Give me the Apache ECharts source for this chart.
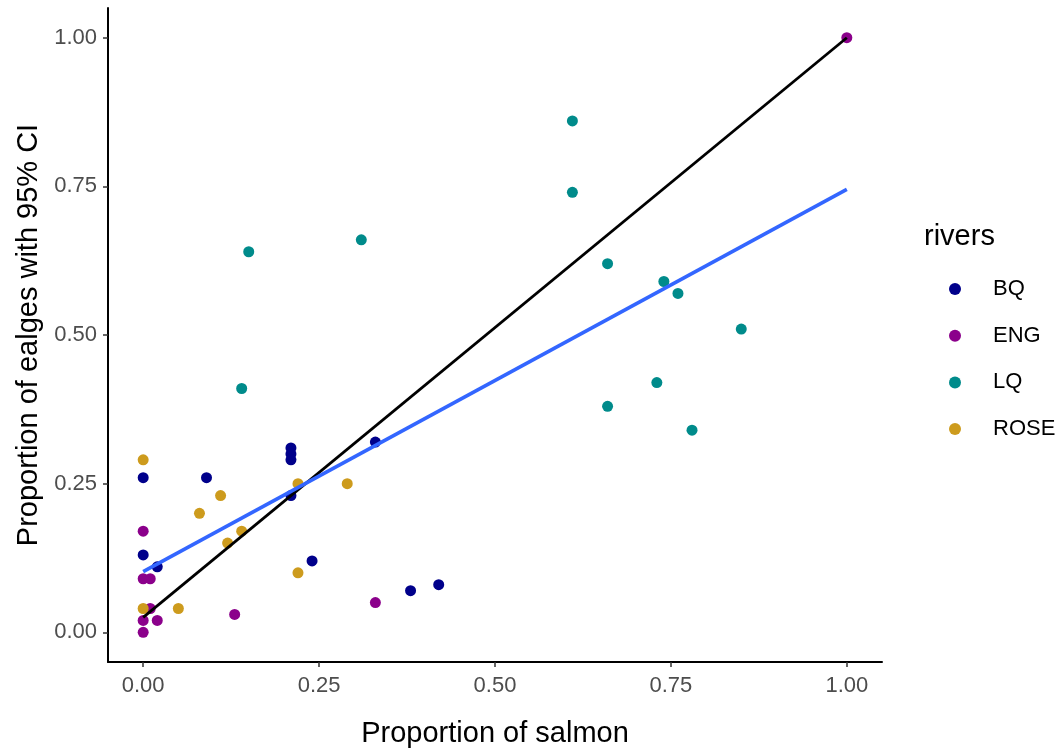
<!DOCTYPE html>
<html>
<head>
<meta charset="utf-8">
<script src="https://cdn.jsdelivr.net/npm/echarts@6/dist/echarts.min.js"></script>
<style>html,body{margin:0;padding:0;background:#fff}#c{width:1061px;height:750px}</style>
</head>
<body>
<div id="c"></div>
<script>
const rivers = ['BQ', 'ENG', 'LQ', 'ROSE'];
const colors = ['#00008B', '#8B008B', '#008B8B', '#CD9B1D'];
const bqX = [0, 0.09, 0.21, 0.21, 0.21, 0.21, 0, 0.02, 0.33, 0.24, 0.38, 0.42];
const bqY = [0.26, 0.26, 0.31, 0.30, 0.29, 0.23, 0.13, 0.11, 0.32, 0.12, 0.07, 0.08];
const engX = [0, 0, 0.01, 0.01, 0, 0.02, 0.13, 0, 0.33, 1.00];
const engY = [0.17, 0.09, 0.09, 0.04, 0.02, 0.02, 0.03, 0, 0.05, 1.00];
const lqX = [0.15, 0.31, 0.61, 0.61, 0.66, 0.74, 0.76, 0.85, 0.73, 0.66, 0.78, 0.14];
const lqY = [0.64, 0.66, 0.86, 0.74, 0.62, 0.59, 0.57, 0.51, 0.42, 0.38, 0.34, 0.41];
const roseX = [0, 0.11, 0.08, 0.22, 0.14, 0.12, 0.22, 0.29, 0, 0.05];
const roseY = [0.29, 0.23, 0.20, 0.25, 0.17, 0.15, 0.10, 0.25, 0.04, 0.04];
const fitX = [0, 1];
const fitY = [0.102, 0.745];
const refX = [0, 1];
const refY = [0.025, 1];
const tickValues = [0, 0.25, 0.5, 0.75, 1];

const pts = [[bqX, bqY], [engX, engY], [lqX, lqY], [roseX, roseY]];
const zip = (a, b) => a.map((v, i) => [v, b[i]]);
const font = 'Liberation Sans, Arial, sans-serif';

const series = [];
rivers.forEach((r, i) => {
  series.push({
    type: 'scatter', name: r, data: zip(pts[i][0], pts[i][1]),
    symbol: 'circle', symbolSize: 11,
    itemStyle: { color: colors[i], opacity: 1 }, z: 2
  });
});
series.push({
  type: 'line', name: 'ref', data: zip(refX, refY), symbol: 'none',
  lineStyle: { color: '#000', width: 2.8 }, z: 3, silent: true
});
series.push({
  type: 'line', name: 'fit', data: zip(fitX, fitY), symbol: 'none',
  lineStyle: { color: '#3366FF', width: 3.6 }, z: 3, silent: true
});

const axisCommon = {
  type: 'value', min: -0.05, max: 1.05,
  splitLine: { show: false },
  axisLine: { show: true, onZero: false, lineStyle: { color: '#000', width: 2 } },
  axisTick: { show: true, length: 5, customValues: tickValues, lineStyle: { color: '#333', width: 1.5 } },
  axisLabel: { customValues: tickValues, color: '#4d4d4d', fontSize: 22, fontFamily: font,
    formatter: v => v.toFixed(2) },
  nameLocation: 'middle',
  nameTextStyle: { color: '#000', fontSize: 29, fontFamily: font }
};

const chart = echarts.init(document.getElementById('c'), null, { renderer: 'canvas' });
chart.setOption({
  backgroundColor: '#fff',
  animation: false,
  grid: { left: 108, right: 179, top: 8, bottom: 88, containLabel: false, outerBoundsMode: 'none' },
  xAxis: Object.assign({}, axisCommon, {
    name: 'Proportion of salmon', nameGap: 57,
    axisLabel: Object.assign({}, axisCommon.axisLabel, { margin: 13 })
  }),
  yAxis: Object.assign({}, axisCommon, {
    name: 'Proportion of ealges with 95% CI', nameGap: 51,
    axisLabel: Object.assign({}, axisCommon.axisLabel, { margin: 11 })
  }),
  legend: {
    data: rivers, orient: 'vertical', left: 944, top: 273,
    icon: 'circle', itemWidth: 12, itemHeight: 12, itemGap: 24.7,
    textStyle: { color: '#000', fontSize: 22, fontFamily: font, padding: [0, 0, 0, 27] }
  },
  graphic: [{
    type: 'text', left: 924, top: 222,
    style: { text: 'rivers', fontSize: 29, fontFamily: font, fill: '#000' }
  }],
  series: series
});
</script>
</body>
</html>
